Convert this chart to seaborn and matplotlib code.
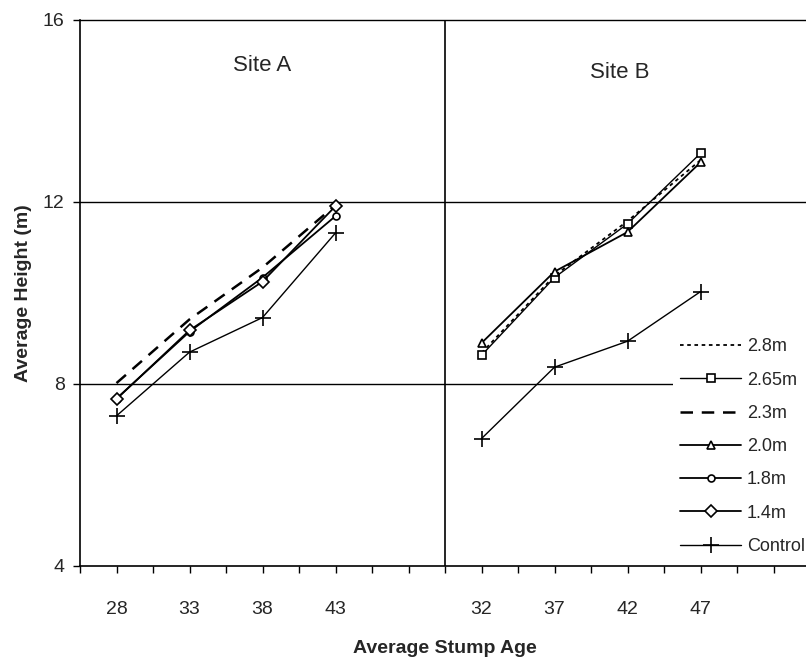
import matplotlib
matplotlib.use("Agg")
import matplotlib.pyplot as plt
import seaborn as sns
import pandas as pd

sns.set_style("white")
plt.rcParams["font.family"] = ["Liberation Sans", "DejaVu Sans"]

# Stump ages per site
ages_a = [28, 33, 38, 43]
ages_b = [32, 37, 42, 47]

# Average height (m) per treatment, Site A
site_a = {
    "2.3m": [8.02, 9.42, 10.56, 11.93],
    "1.8m": [7.68, 9.15, 10.34, 11.69],
    "1.4m": [7.67, 9.18, 10.25, 11.91],
    "Control": [7.30, 8.70, 9.46, 11.32],
}

# Average height (m) per treatment, Site B
site_b = {
    "2.8m": [8.68, 10.38, 11.58, 12.92],
    "2.65m": [8.63, 10.34, 11.52, 13.07],
    "2.0m": [8.90, 10.47, 11.34, 12.87],
    "Control": [6.80, 8.37, 8.94, 10.03],
}

series_order = ["2.8m", "2.65m", "2.3m", "2.0m", "1.8m", "1.4m", "Control"]

styles = {
    "2.8m": dict(linestyle=(0, (2, 2)), marker=None, lw=1.3),
    "2.65m": dict(linestyle="-", marker="s", lw=1.0, ms=6),
    "2.3m": dict(linestyle=(0, (5, 3.5)), marker=None, lw=1.8),
    "2.0m": dict(linestyle="-", marker="^", lw=1.3, ms=6),
    "1.8m": dict(linestyle="-", marker="o", lw=1.3, ms=5),
    "1.4m": dict(linestyle="-", marker="D", lw=1.3, ms=6),
    "Control": dict(linestyle="-", marker="+", lw=1.0, ms=11),
}

# Category slots along the axis: Site A uses slots 0-3, Site B slots 5-8
slots_a = [0.5, 1.5, 2.5, 3.5]
slots_b = [5.5, 6.5, 7.5, 8.5]

fig = plt.figure(figsize=(8.06, 6.61), dpi=100)
ax = fig.add_axes([80 / 806, 95 / 661, 730 / 806, 546 / 661])

for name in series_order:
    st = styles[name]
    labelled = False
    for slots, table in ((slots_a, site_a), (slots_b, site_b)):
        if name not in table:
            continue
        df = pd.DataFrame({"pos": slots, "height": table[name]})
        sns.lineplot(
            data=df, x="pos", y="height", ax=ax, color="black",
            linestyle=st["linestyle"], linewidth=st["lw"],
            marker=st["marker"], markersize=st.get("ms", 6),
            markerfacecolor="white", markeredgecolor="black",
            markeredgewidth=1.2, label=None if labelled else name,
            legend=False, zorder=3,
        )
        labelled = True

ax.set_xlim(0, 10)
ax.set_ylim(4, 16)

# Horizontal gridlines and site divider
for yv in (16, 12, 8):
    ax.axhline(yv, color="black", lw=1.0, zorder=1, clip_on=False)
ax.axvline(5, color="black", lw=1.2, zorder=1)

for side in ("top", "right"):
    ax.spines[side].set_visible(False)
for side in ("left", "bottom"):
    ax.spines[side].set_color("black")
    ax.spines[side].set_linewidth(1.2)

ax.set_yticks([4, 8, 12, 16])
ax.set_yticklabels(["4", "8", "12", "16"], fontsize=14)

ax.set_xticks([i * 0.5 for i in range(21)], minor=True)
ax.set_xticks(slots_a + slots_b)
ax.set_xticklabels([str(a) for a in ages_a + ages_b], fontsize=14)
ax.tick_params(axis="x", which="both", direction="out", length=5, width=1,
               color="black", pad=20, bottom=True)
ax.tick_params(axis="y", direction="out", length=5, width=1, color="black",
               pad=6, left=True)

ax.set_xlabel("Average Stump Age", fontsize=14, fontweight="bold", labelpad=16)
ax.set_ylabel("Average Height (m)", fontsize=14, fontweight="bold", labelpad=8)

ax.text(2.5, 15.0, "Site A", fontsize=16, ha="center", va="center")
ax.text(7.4, 14.85, "Site B", fontsize=16, ha="center", va="center")

handles, labels = ax.get_legend_handles_labels()
order = [labels.index(n) for n in series_order]
leg = ax.legend([handles[i] for i in order], [labels[i] for i in order],
                loc="upper left", bbox_to_anchor=(0.812, 0.43),
                frameon=True, fancybox=False, framealpha=1,
                facecolor="white", edgecolor="none", fontsize=13,
                handlelength=3.4, handletextpad=0.3, labelspacing=0.9,
                borderpad=0.4, borderaxespad=0)
leg.set_zorder(5)

fig.savefig("out.png", dpi=100)
